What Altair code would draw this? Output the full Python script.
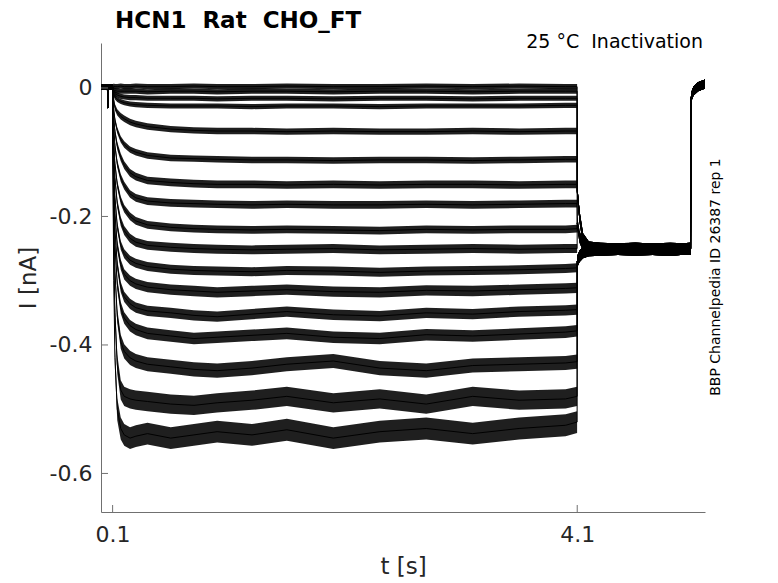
import altair as alt
import pandas as pd

# ---- data (time in s, current in nA) ----
PRE_T = [0.0, 0.055, 0.06, 0.065, 0.099]
PRE_I = [0.002, 0.002, -0.03, 0.002, 0.002]

STEP_T = [0.1, 0.105, 0.11, 0.12, 0.14, 0.17, 0.2, 0.25, 0.3, 0.4, 0.6, 0.8,
          1.0, 1.3, 1.6, 2.0, 2.4, 2.8, 3.2, 3.6, 4.0, 4.099]

TRACES = [
    [0.000, 0.002, 0.003, 0.002, 0.002, 0.003, 0.002, 0.002, 0.003, 0.002, 0.002, 0.003, 0.002, 0.002, 0.003, 0.002, 0.002, 0.003, 0.002, 0.003, 0.002, 0.002],
    [-0.001, -0.002, -0.003, -0.004, -0.005, -0.005, -0.005, -0.005, -0.005, -0.006, -0.005, -0.005, -0.006, -0.005, -0.005, -0.006, -0.005, -0.005, -0.006, -0.005, -0.005, -0.005],
    [-0.001, -0.003, -0.006, -0.009, -0.011, -0.013, -0.014, -0.015, -0.015, -0.016, -0.016, -0.016, -0.017, -0.016, -0.016, -0.017, -0.016, -0.016, -0.017, -0.016, -0.016, -0.016],
    [-0.002, -0.006, -0.010, -0.014, -0.018, -0.021, -0.023, -0.025, -0.026, -0.027, -0.028, -0.028, -0.028, -0.029, -0.028, -0.028, -0.029, -0.028, -0.028, -0.028, -0.027, -0.027],
    [-0.003, -0.012, -0.020, -0.030, -0.038, -0.044, -0.048, -0.053, -0.056, -0.060, -0.064, -0.066, -0.067, -0.067, -0.068, -0.067, -0.068, -0.068, -0.067, -0.068, -0.067, -0.067],
    [-0.004, -0.020, -0.034, -0.050, -0.066, -0.080, -0.088, -0.096, -0.100, -0.105, -0.109, -0.110, -0.111, -0.112, -0.112, -0.113, -0.112, -0.112, -0.113, -0.112, -0.111, -0.111],
    [-0.005, -0.027, -0.046, -0.068, -0.090, -0.108, -0.120, -0.132, -0.138, -0.144, -0.147, -0.149, -0.150, -0.150, -0.151, -0.150, -0.151, -0.150, -0.150, -0.151, -0.150, -0.150],
    [-0.006, -0.035, -0.060, -0.090, -0.118, -0.140, -0.152, -0.165, -0.171, -0.176, -0.179, -0.180, -0.181, -0.182, -0.181, -0.182, -0.182, -0.181, -0.182, -0.181, -0.180, -0.180],
    [-0.008, -0.045, -0.080, -0.118, -0.150, -0.175, -0.188, -0.200, -0.207, -0.213, -0.217, -0.219, -0.220, -0.221, -0.220, -0.221, -0.222, -0.220, -0.221, -0.220, -0.220, -0.219],
    [-0.010, -0.055, -0.095, -0.140, -0.180, -0.208, -0.222, -0.234, -0.240, -0.245, -0.248, -0.250, -0.251, -0.252, -0.251, -0.250, -0.252, -0.251, -0.250, -0.251, -0.250, -0.250],
    [-0.012, -0.068, -0.115, -0.170, -0.215, -0.245, -0.258, -0.268, -0.273, -0.278, -0.282, -0.284, -0.285, -0.286, -0.284, -0.285, -0.287, -0.285, -0.284, -0.283, -0.281, -0.280],
    [-0.014, -0.080, -0.135, -0.195, -0.245, -0.275, -0.290, -0.300, -0.305, -0.310, -0.314, -0.316, -0.318, -0.316, -0.314, -0.317, -0.318, -0.315, -0.316, -0.314, -0.312, -0.311],
    [-0.016, -0.095, -0.155, -0.220, -0.275, -0.310, -0.325, -0.336, -0.342, -0.347, -0.350, -0.354, -0.356, -0.352, -0.348, -0.353, -0.355, -0.350, -0.352, -0.348, -0.346, -0.345],
    [-0.018, -0.110, -0.175, -0.245, -0.305, -0.342, -0.358, -0.370, -0.376, -0.382, -0.386, -0.390, -0.388, -0.385, -0.382, -0.388, -0.390, -0.384, -0.386, -0.383, -0.380, -0.378],
    [-0.020, -0.130, -0.205, -0.285, -0.355, -0.395, -0.410, -0.420, -0.425, -0.430, -0.434, -0.438, -0.440, -0.436, -0.430, -0.425, -0.436, -0.440, -0.432, -0.430, -0.428, -0.426],
    [-0.025, -0.160, -0.250, -0.350, -0.430, -0.470, -0.480, -0.484, -0.486, -0.488, -0.492, -0.494, -0.490, -0.486, -0.480, -0.490, -0.484, -0.492, -0.480, -0.486, -0.484, -0.480],
    [-0.030, -0.190, -0.300, -0.420, -0.500, -0.530, -0.540, -0.545, -0.542, -0.538, -0.545, -0.540, -0.535, -0.540, -0.532, -0.545, -0.535, -0.530, -0.538, -0.530, -0.525, -0.520],
]
# half-width of the noise band of each trace during the step (nA)
NOISE = [0.004, 0.004, 0.004, 0.004, 0.005, 0.005, 0.006, 0.006, 0.006,
         0.007, 0.007, 0.008, 0.008, 0.009, 0.011, 0.015, 0.017]

TAIL_GROUP = [0, 0, 0, 0, 0, 0, 1, 1, 1, 1, 2, 2, 2, 2, 2, 2, 2]
TAIL_T = [4.1, 4.12, 4.15, 4.2, 4.3, 4.6, 4.9, 5.075]
TAIL_I = [
    [-0.160, -0.200, -0.235, -0.248, -0.250, -0.252, -0.250, -0.251],
    [-0.210, -0.232, -0.245, -0.250, -0.251, -0.250, -0.252, -0.250],
    [-0.270, -0.262, -0.256, -0.253, -0.252, -0.250, -0.252, -0.250],
]
TAIL_NOISE = 0.009
END_T = [5.076, 5.08, 5.1, 5.14, 5.2]
END_I = [-0.250, -0.015, -0.005, 0.002, 0.006]
END_NOISE = 0.007
PRE_NOISE = 0.004

Y_TICKS = [0, -0.2, -0.4, -0.6]
X_TICKS = [0.1, 4.1]

rows = []
for k, trace in enumerate(TRACES):
    idx = 0
    segs = [
        (PRE_T, PRE_I, PRE_NOISE),
        (STEP_T, trace, NOISE[k]),
        (TAIL_T, TAIL_I[TAIL_GROUP[k]], TAIL_NOISE),
        (END_T, END_I, END_NOISE),
    ]
    for ts, vs, n in segs:
        for t, v in zip(ts, vs):
            rows.append({"trace": k, "idx": idx, "t": t, "I": v, "lo": v - n, "hi": v + n})
            idx += 1
df = pd.DataFrame(rows)

W, H = 604, 469
FONT = "DejaVu Sans"
xs = alt.Scale(domain=[0, 5.2], nice=False, zero=False)
ys = alt.Scale(domain=[-0.66, 0.07], nice=False, zero=False)

XAX = alt.Axis(values=X_TICKS, title="t [s]", grid=False, ticks=False, tickSize=0,
               labelExpr="toString(datum.value)", labelFontSize=22, titleFontSize=23,
               labelPadding=12, titlePadding=10, titleFontWeight="normal",
               domainColor="#707070", labelColor="#262626", titleColor="#262626",
               labelFont=FONT, titleFont=FONT)
YAX = alt.Axis(values=Y_TICKS, title="I [nA]", grid=False, ticks=False, tickSize=0,
               labelExpr="toString(datum.value)", labelFontSize=22, titleFontSize=23,
               labelPadding=9, titlePadding=9, titleFontWeight="normal",
               domainColor="#707070", labelColor="#262626", titleColor="#262626",
               labelFont=FONT, titleFont=FONT)

base = alt.Chart(df)
band = base.mark_area(color="black", opacity=0.88, clip=True, interpolate="linear").encode(
    x=alt.X("t:Q", scale=xs, axis=XAX),
    y=alt.Y("lo:Q", scale=ys, axis=YAX),
    y2="hi:Q",
    detail="trace:N",
)
lines = base.mark_line(color="black", strokeWidth=1, clip=True).encode(
    x=alt.X("t:Q", scale=xs, axis=XAX),
    y=alt.Y("I:Q", scale=ys, axis=YAX),
    detail="trace:N",
    order="idx:Q",
)

yt = alt.Chart(pd.DataFrame({"v": Y_TICKS})).mark_rule(color="#707070", strokeWidth=1).encode(
    y=alt.Y("v:Q", scale=ys, axis=YAX), x=alt.value(0), x2=alt.value(7))
xt = alt.Chart(pd.DataFrame({"v": X_TICKS})).mark_rule(color="#707070", strokeWidth=1).encode(
    x=alt.X("v:Q", scale=xs, axis=XAX), y=alt.value(H), y2=alt.value(H - 7))

ann = pd.DataFrame({"dummy": [0]})
title = alt.Chart(ann).mark_text(
    text="HCN1\u00a0 Rat\u00a0 CHO_FT", align="left", baseline="alphabetic",
    fontSize=23, fontWeight="bold", font=FONT, color="black").encode(
    x=alt.value(14), y=alt.value(-15))
sub = alt.Chart(ann).mark_text(
    text="25 °C\u00a0 Inactivation", align="right", baseline="alphabetic",
    fontSize=19, font=FONT, color="black").encode(
    x=alt.value(602), y=alt.value(5))
side = alt.Chart(ann).mark_text(
    text="BBP Channelpedia ID 26387 rep 1", align="center", baseline="middle",
    fontSize=14, font=FONT, color="black", angle=270).encode(
    x=alt.value(615), y=alt.value(234))

chart = alt.layer(band, lines, yt, xt, title, sub, side).properties(
    width=W, height=H,
    autosize=alt.AutoSizeParams(type="none"),
    padding={"left": 93, "top": 35, "right": 60, "bottom": 72},
    background="white",
).configure_view(stroke=None)

chart.save("out.html", embed_options={"renderer": "svg", "actions": False})
